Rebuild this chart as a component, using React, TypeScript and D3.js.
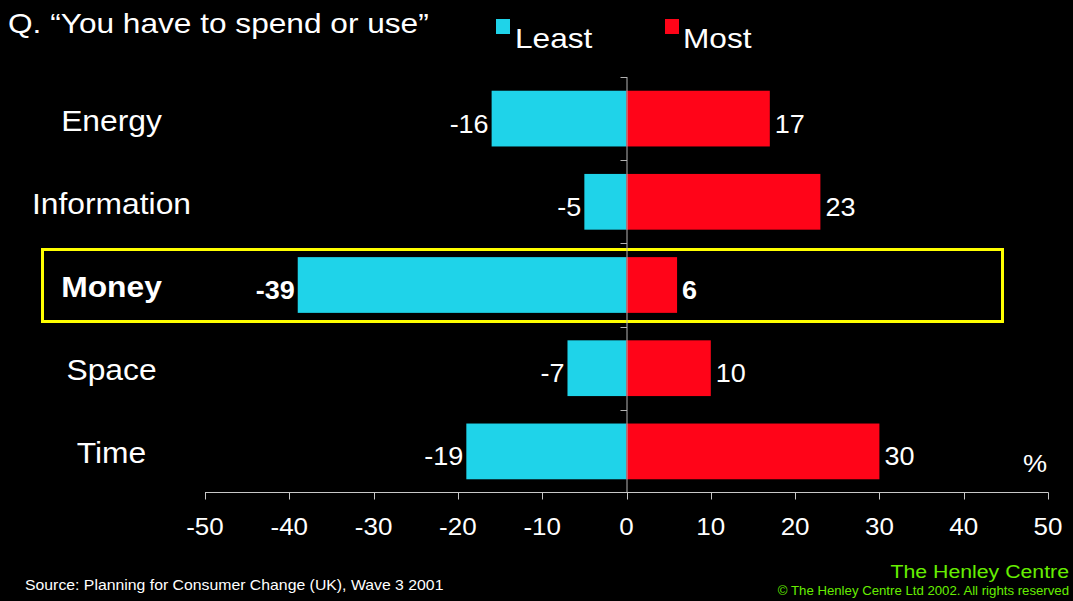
import React from "react";
import * as d3 from "d3";

const categories = ["Energy", "Information", "Money", "Space", "Time"];
const leastValues = [-16, -5, -39, -7, -19];
const mostValues = [17, 23, 6, 10, 30];
const xTicks = [-50, -40, -30, -20, -10, 0, 10, 20, 30, 40, 50];
const highlighted = "Money";

const W = 1073;
const H = 601;
const FONT = "'Liberation Sans', Arial, Helvetica, sans-serif";
const CYAN = "#1fd3e9";
const RED = "#ff0418";
const GREEN = "#66ee00";
const SX = 1.13;

type TProps = {
  x: number;
  y: number;
  size: number;
  anchor?: "start" | "middle" | "end";
  bold?: boolean;
  fill?: string;
  sx?: number;
  children: React.ReactNode;
};

function T({ x, y, size, anchor = "start", bold = false, fill = "#ffffff", sx = SX, children }: TProps) {
  return (
    <text
      transform={`translate(${x},${y}) scale(${sx},1)`}
      fontSize={size}
      fontFamily={FONT}
      fontWeight={bold ? "bold" : "normal"}
      textAnchor={anchor}
      fill={fill}
    >
      {children}
    </text>
  );
}

export default function App() {
  const x = d3.scaleLinear().domain([-50, 50]).range([205, 1048]);
  const y = d3
    .scaleBand<string>()
    .domain(categories)
    .range([77, 493])
    .paddingInner(0.33)
    .paddingOuter(0.165);
  const x0 = x(0);
  const axisY = 492.5;
  const step = y.step();
  const boundaries = d3.range(categories.length).map((i) => 77 + i * step);

  return (
    <svg
      width={W}
      height={H}
      style={{ position: "absolute", left: 0, top: 0, display: "block" }}
    >
      <rect x={0} y={0} width={W} height={H} fill="#000000" />

      {/* Title */}
      <T x={8} y={33} size={28}>Q. “You have to spend or use”</T>

      {/* Legend */}
      <rect x={496} y={19} width={14} height={15} fill={CYAN} />
      <T x={515} y={48} size={28}>Least</T>
      <rect x={665} y={19} width={14} height={15} fill={RED} />
      <T x={683} y={48} size={28}>Most</T>

      {/* Highlight box */}
      <rect x={42.5} y={249.5} width={960} height={72} fill="none" stroke="#ffff00" strokeWidth={3} />

      {/* Bars */}
      {categories.map((c, i) => {
        const by = y(c) as number;
        const bh = y.bandwidth();
        const cy = by + bh / 2;
        const bold = c === highlighted;
        const lx = x(leastValues[i]);
        const mx = x(mostValues[i]);
        return (
          <g key={c}>
            <rect x={lx} y={by} width={x0 - lx} height={bh} fill={CYAN} />
            <rect x={x0} y={by} width={mx - x0} height={bh} fill={RED} />
            <T x={lx - 3} y={cy + 14} size={25} anchor="end" bold={bold} sx={1.08}>
              {leastValues[i]}
            </T>
            <T x={mx + 5} y={cy + 14} size={25} anchor="start" bold={bold} sx={1.08}>
              {mostValues[i]}
            </T>
            <T x={111.5} y={cy + 12} size={30} anchor="middle" bold={bold} sx={1.06}>
              {c}
            </T>
          </g>
        );
      })}

      {/* Vertical axis */}
      <line x1={x0 + 0.5} x2={x0 + 0.5} y1={77} y2={axisY} stroke="#b4b4b4" strokeWidth={1} />
      {boundaries.map((b, i) => (
        <line key={i} x1={x0 - 6} x2={x0 + 0.5} y1={Math.round(b) + 0.5} y2={Math.round(b) + 0.5} stroke="#b4b4b4" strokeWidth={1} />
      ))}

      {/* Horizontal axis */}
      <line x1={x(-50)} x2={x(50) + 0.5} y1={axisY} y2={axisY} stroke="#c8c8c8" strokeWidth={1} />
      {xTicks.map((t) => (
        <g key={t}>
          <line
            x1={Math.round(x(t)) + 0.5}
            x2={Math.round(x(t)) + 0.5}
            y1={axisY}
            y2={axisY + 7}
            stroke="#c8c8c8"
            strokeWidth={1}
          />
          <T x={x(t)} y={535} size={23} anchor="middle">
            {t}
          </T>
        </g>
      ))}

      <T x={1023} y={472} size={24}>%</T>

      {/* Footer */}
      <T x={25} y={590} size={14}>Source: Planning for Consumer Change (UK), Wave 3 2001</T>
      <T x={1069} y={578} size={19} anchor="end" fill={GREEN} sx={1.12}>The Henley Centre</T>
      <T x={1069} y={595} size={12} anchor="end" fill={GREEN} sx={1.1}>© The Henley Centre Ltd 2002. All rights reserved</T>
    </svg>
  );
}
